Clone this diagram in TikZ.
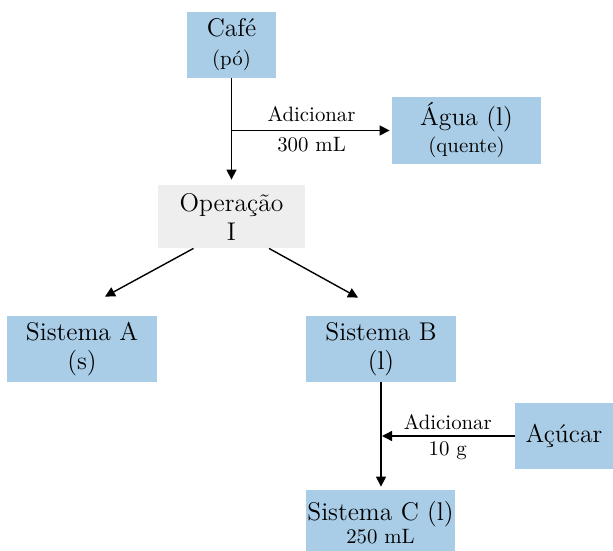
\documentclass[tikz,border=0pt]{standalone}
\usepackage{fontspec}
\usetikzlibrary{arrows.meta}
\definecolor{boxblue}{RGB}{169,205,231}
\definecolor{boxgray}{RGB}{238,238,238}
\tikzset{
  blk/.style={fill=boxblue, inner sep=0pt, align=center,
    font=\fontsize{12.8}{14.5}\selectfont},
  opbox/.style={blk, fill=boxgray},
  flow/.style={-{Triangle[width=5pt,length=5pt]}, line width=0.7pt},
  lbl/.style={font=\fontsize{10.4}{12}\selectfont, inner sep=1pt},
}
\newcommand{\sm}[1]{{\fontsize{10.4}{12}\selectfont #1}}

\begin{document}
\begin{tikzpicture}[x=0.5pt, y=-0.5pt]
  \useasboundingbox (0,0) rectangle (613,550);
  % boxes
  \node[blk, minimum width=44.5pt, minimum height=33pt] (cafe) at (231.5,45) {Café\\\sm{(pó)}};
  \node[blk, minimum width=74.5pt, minimum height=33.5pt] (agua) at (466.5,130.5) {Água (l)\\[-1pt]\sm{(quente)}};
  \node[opbox, minimum width=73.5pt, minimum height=31.5pt] (op) at (231.5,216.5) {Operação\\I};
  \node[blk, minimum width=75pt, minimum height=33pt] (sisA) at (82,349) {Sistema A\\(s)};
  \node[blk, minimum width=75pt, minimum height=33pt] (sisB) at (381,349) {Sistema B\\(l)};
  \node[blk, minimum width=49pt, minimum height=33pt] (acucar) at (564,436) {Açúcar};
  \node[blk, minimum width=74.5pt, minimum height=33pt] (sisC) at (380.5,523) {Sistema C (l)\\[-3pt]\sm{250 mL}};
  % arrows
  \draw[flow, shorten >=2.5pt] (cafe) -- (op);
  \draw[flow, shorten >=1pt] (cafe.south |- agua.west) -- (agua.west)
    node[lbl, midway, above=3pt] {Adicionar}
    node[lbl, midway, below=2pt] {300 mL};
  \draw[flow] ([xshift=-19pt]op.south) -- ([xshift=11.5pt,yshift=9.5pt]sisA.north);
  \draw[flow] ([xshift=18.75pt]op.south) -- ([xshift=-11.5pt,yshift=9pt]sisB.north);
  \draw[flow, shorten >=1.5pt] (sisB.south) -- (sisB.south |- sisC.north);
  \draw[flow, shorten >=0.5pt] (acucar.west) -- (sisB.south |- acucar.west)
    node[lbl, midway, above=2pt] {Adicionar}
    node[lbl, midway, below=1.5pt] {10 g};
\end{tikzpicture}
\end{document}
